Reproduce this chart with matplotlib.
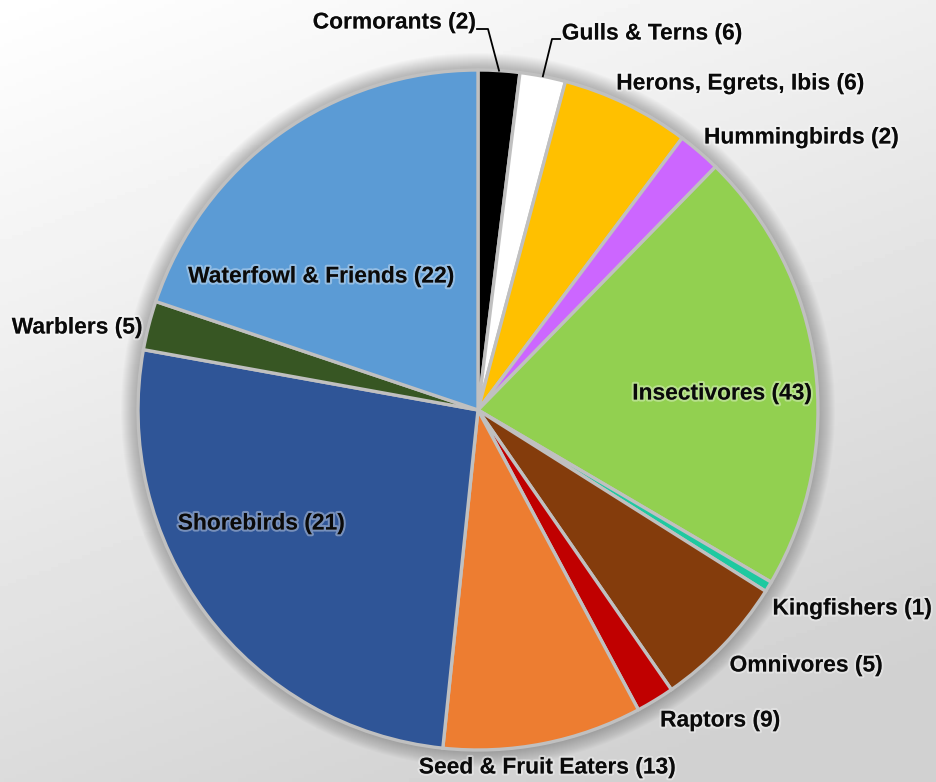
import numpy as np
import matplotlib
matplotlib.use("Agg")
import matplotlib.pyplot as plt
import matplotlib.patheffects as pe
from matplotlib.patches import Circle

# slice shares (%)
groups = ['Cormorants', 'Gulls & Terns', 'Herons, Egrets, Ibis', 'Hummingbirds',
          'Insectivores', 'Kingfishers', 'Omnivores', 'Raptors',
          'Seed & Fruit Eaters', 'Shorebirds', 'Warblers', 'Waterfowl & Friends']
shares = [1.97, 2.17, 6.11, 2.06, 21.14, 0.50, 6.42, 1.81, 9.47, 26.19, 2.33, 19.83]
counts = [2, 6, 6, 2, 43, 1, 5, 9, 13, 21, 5, 22]
colors = ['#000000', '#ffffff', '#ffc000', '#cc66ff', '#92d050', '#1fc9a0',
          '#843c0c', '#c00000', '#ed7d31', '#2f5597', '#375623', '#5b9bd5']

# layout, in image pixels (y down)
W, H = 936, 782
CX, CY, R = 478, 410, 340
label_xy = [(394, 22), (652, 33), (740, 83), (801, 137), (722, 393), (852, 608),
            (806, 665), (720, 720), (547, 767), (261, 523), (77, 327), (321, 276)]
# leader lines: (text anchor, elbow) for the two thin slices on top
leaders = {0: [(477, 29), (488, 29)], 1: [(560, 39), (552, 39)]}

plt.rcParams['font.family'] = ['Liberation Sans', 'DejaVu Sans']

fig = plt.figure(figsize=(W / 100, H / 100), dpi=100)
ax = fig.add_axes([0, 0, 1, 1])

# soft grey background gradient
yy, xx = np.mgrid[0:1:200j, 0:1:240j]
t = np.clip(0.78 * yy + 0.35 * xx, 0, 1)
bg = 1.0 - 0.18 * t
ax.imshow(bg, cmap='gray', vmin=0, vmax=1, extent=(0, W, 0, H), origin='upper',
          aspect='auto', zorder=0)

# faint shadow round the pie
for k in range(1, 18):
    ax.add_patch(Circle((CX, H - CY), R + k, color='black', alpha=0.014, lw=0, zorder=1))

wedges, _ = ax.pie(shares, colors=colors, startangle=90, counterclock=False,
                   center=(CX, H - CY), radius=R,
                   wedgeprops=dict(edgecolor='#c0c0c0', linewidth=2.4))
for w in wedges:
    w.set_zorder(2)

glow = [pe.withStroke(linewidth=3, foreground=(1, 1, 1, 0.35))]
for i, (name, n) in enumerate(zip(groups, counts)):
    x, y = label_xy[i]
    ax.text(x, H - y, f'{name} ({n})', ha='center', va='center', fontsize=16.4,
            fontweight='bold', color='#0a0a0a', path_effects=glow, zorder=4)

# leader lines to the mid-point of the wedge rim
cum = np.cumsum([0] + shares)
for i, pts in leaders.items():
    mid = np.deg2rad((cum[i] + shares[i] / 2) / 100 * 360)
    ex, ey = CX + R * np.sin(mid), CY - R * np.cos(mid)
    xs = [p[0] for p in pts] + [ex]
    ys = [H - p[1] for p in pts] + [H - ey]
    ax.plot(xs, ys, color='black', lw=1.3, zorder=3)

ax.set_xlim(0, W)
ax.set_ylim(0, H)
ax.set_aspect('equal')
ax.axis('off')

fig.savefig('out.png', dpi=100)
